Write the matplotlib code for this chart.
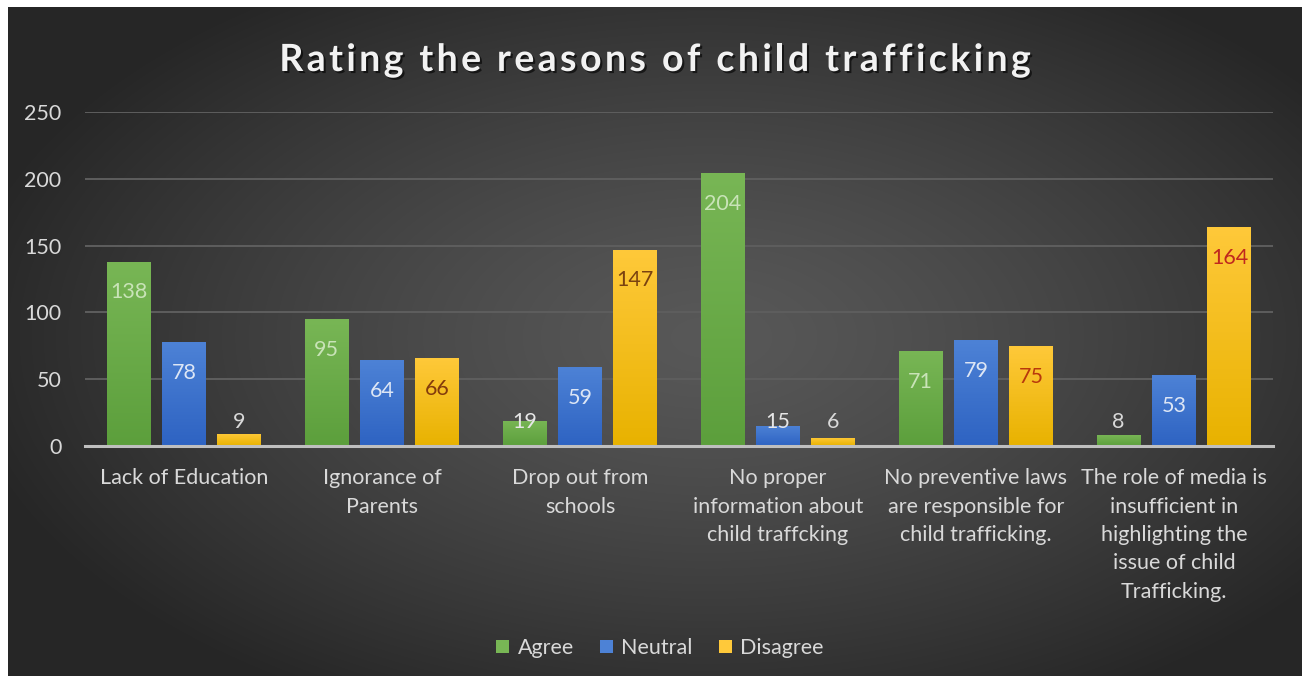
import numpy as np
import matplotlib
matplotlib.use("Agg")
import matplotlib.pyplot as plt
from matplotlib.colors import LinearSegmentedColormap
import matplotlib.patheffects as pe

plt.rcParams['font.family'] = ['Lato', 'DejaVu Sans']

categories = [
    "Lack of Education",
    "Ignorance of\nParents",
    "Drop out from\nschools",
    "No proper\ninformation about\nchild traffcking",
    "No preventive laws\nare responsible for\nchild trafficking.",
    "The role of media is\ninsufficient in\nhighlighting the\nissue of child\nTrafficking.",
]
agree = [138, 95, 19, 204, 71, 8]
neutral = [78, 64, 59, 15, 79, 53]
disagree = [9, 66, 147, 6, 75, 164]
series_names = ["Agree", "Neutral", "Disagree"]
yticks = [0, 50, 100, 150, 200, 250]
title = "Rating the reasons of child trafficking"

W, H = 1308, 683
fig = plt.figure(figsize=(W / 100, H / 100), dpi=100, facecolor="white")

# dark panel with a soft radial glow
panel = fig.add_axes([8 / W, 7 / H, 1294 / W, 669 / H])
panel.set_axis_off()
yy, xx = np.mgrid[0:669, 0:1294]
r = np.sqrt(((xx - 700) / 760.0) ** 2 + ((yy - 330) / 420.0) ** 2)
r = np.clip(r, 0, 1) ** 1.3
c_in = np.array([0x58, 0x58, 0x58]) / 255
c_out = np.array([0x26, 0x26, 0x26]) / 255
img = c_in[None, None, :] * (1 - r[..., None]) + c_out[None, None, :] * r[..., None]
panel.imshow(img, aspect="auto", extent=[0, 1, 0, 1], origin="upper")
panel.set_xlim(0, 1)
panel.set_ylim(0, 1)

ax = fig.add_axes([85 / W, (H - 446) / H, (1273 - 85) / W, (446 - 112) / H])
ax.patch.set_alpha(0)

x = np.arange(len(categories))
bw = 0.222
offs = [-0.28, 0.0, 0.28]
grads = [("#5c9f3c", "#78b655"), ("#2e63c2", "#4d82d6"), ("#e8b200", "#ffc93a")]
label_cols = ["#c9e3b8", "#dde6f5", None]
dis_label_cols = ["#843c0c", "#843c0c", "#7a4210", "#843c0c", "#b8380c", "#c0281e"]

for s, (vals, off, (cb, ct)) in enumerate(zip([agree, neutral, disagree], offs, grads)):
    bars = ax.bar(x + off, vals, width=bw, color=ct, zorder=3, label=series_names[s])
    cmap = LinearSegmentedColormap.from_list("g%d" % s, [cb, ct])
    for b in bars:
        x0, w, h = b.get_x(), b.get_width(), b.get_height()
        grad = np.linspace(0, 1, 128).reshape(-1, 1)
        im = ax.imshow(grad, extent=[x0, x0 + w, 0, h], origin="lower", cmap=cmap,
                       aspect="auto", zorder=3.1)
        im.set_clip_path(b)
    for i, v in enumerate(vals):
        ly = max(v - 23, 18)
        if v - 23 >= 18:
            col = label_cols[s] if s < 2 else dis_label_cols[i]
        elif v >= 15:
            col = "#e6e6e6"
        else:
            col = "#d9d9d9"
        ax.text(i + off, ly, str(v), ha="center", va="center", fontsize=15.5,
                color=col, zorder=5)

ax.set_xlim(-0.5, len(categories) - 0.5)
ax.set_ylim(0, 250)
ax.set_yticks(yticks)
ax.set_xticks(x)
ax.set_xticklabels(categories, fontsize=15.5, color="#d9d9d9", linespacing=1.52)
ax.tick_params(axis="y", length=0, pad=17, labelsize=15.5, labelcolor="#d9d9d9")
ax.tick_params(axis="x", length=0, pad=16)
ax.grid(axis="y", color="#5e5e5e", linewidth=1.4, zorder=1)
ax.set_axisbelow(True)
for sp in ["top", "right", "left"]:
    ax.spines[sp].set_visible(False)
ax.spines["bottom"].set_color("#bfbfbf")
ax.spines["bottom"].set_linewidth(2.2)
ax.spines["bottom"].set_zorder(4)

# title with widened letter spacing, one glyph at a time
renderer = fig.canvas.get_renderer()
tkw = dict(fontsize=27, fontweight="bold", color="#f2f2f2",
           path_effects=[pe.withSimplePatchShadow(offset=(1.5, -1.5),
                                                  shadow_rgbFace="black", alpha=0.6)])
spacing = 3.4
probe = fig.text(0, 0, title, **tkw)
full_w = probe.get_window_extent(renderer).width
probe.remove()
total = full_w + spacing * (len(title) - 1)
x_start = 655 - total / 2
for k, ch in enumerate(title):
    if k == 0:
        pw = 0.0
    else:
        t = fig.text(0, 0, title[:k] + "|", **tkw)
        bar_t = fig.text(0, 0, "|", **tkw)
        pw = t.get_window_extent(renderer).width - bar_t.get_window_extent(renderer).width
        t.remove()
        bar_t.remove()
    if ch == " ":
        continue
    fig.text((x_start + pw + spacing * k) / W, 1 - 57 / H, ch, ha="left",
             va="center_baseline", **tkw)

fig.legend(loc="center", bbox_to_anchor=(660 / W, 1 - 648 / H), ncol=3, frameon=False,
           fontsize=15.5, labelcolor="#d9d9d9", handlelength=0.6, handleheight=0.6,
           handletextpad=0.4, columnspacing=1.2)

fig.savefig("out.png", dpi=100, facecolor="white")
